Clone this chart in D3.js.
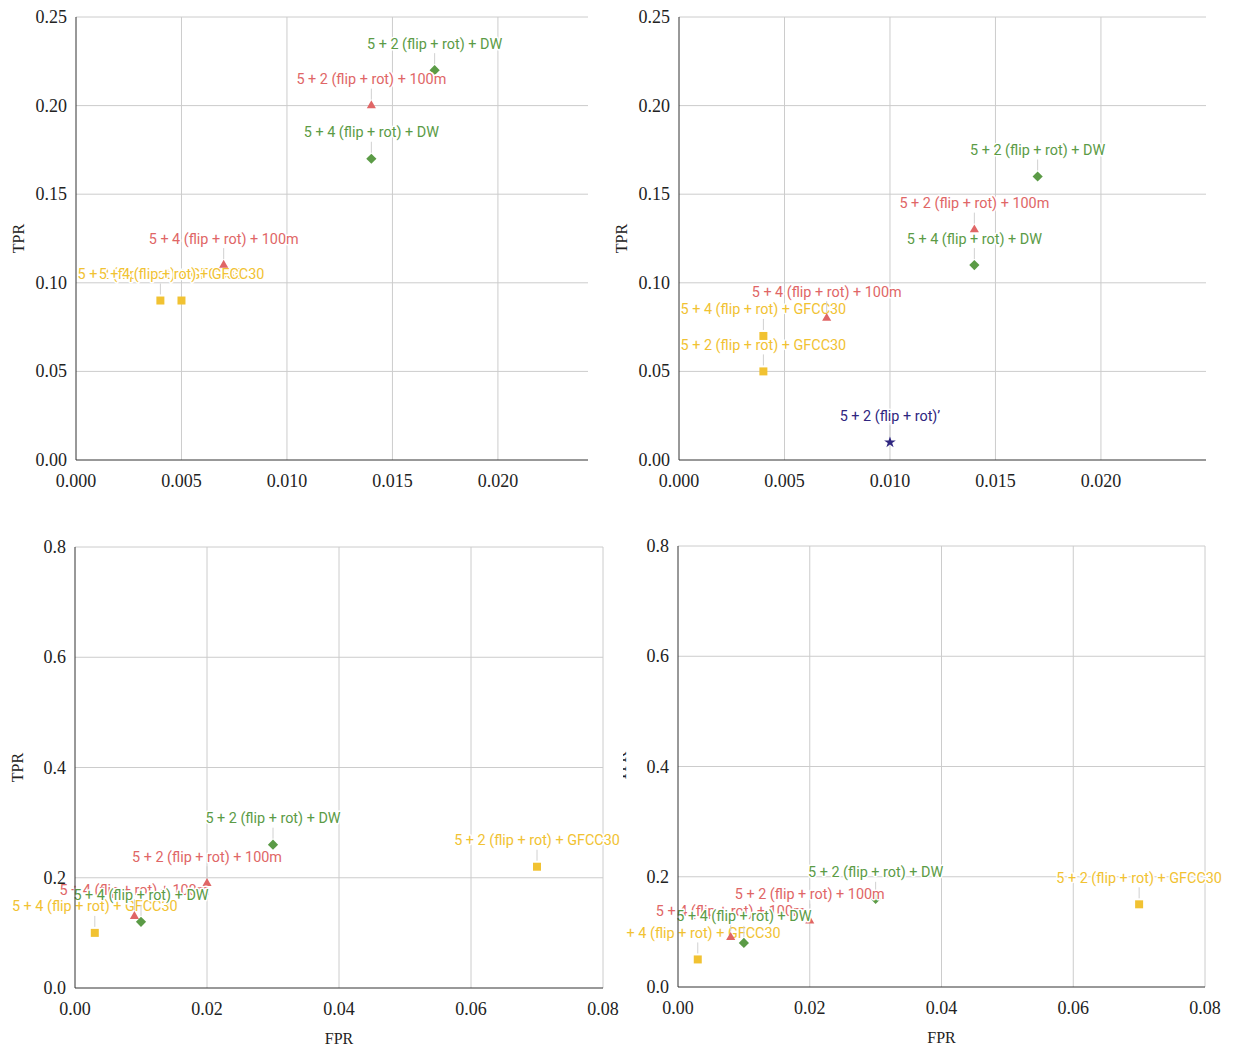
<!DOCTYPE html>
<html>
<head>
<meta charset="utf-8">
<script src="https://cdn.jsdelivr.net/npm/d3@7"></script>
<style>
  html, body { margin: 0; padding: 0; background: #fff; }
  svg { display: block; }
  .tick-label { font-family: "Liberation Serif", "Times New Roman", serif; font-size: 18px; fill: #222; }
  .axis-title { font-family: "Liberation Serif", "Times New Roman", serif; font-size: 16px; fill: #222; }
  .pt-label { font-family: Roboto, "Noto Sans", sans-serif; font-size: 14.4px;
              paint-order: stroke; stroke: #fff; stroke-width: 3px; stroke-linejoin: round; }
</style>
</head>
<body>
<script>
// ---- tick values ----
const xTicksSmall = [0, 0.005, 0.010, 0.015, 0.020];
const yTicksSmall = [0, 0.05, 0.10, 0.15, 0.20, 0.25];
const xTicksLarge = [0, 0.02, 0.04, 0.06, 0.08];
const yTicksLarge = [0, 0.2, 0.4, 0.6, 0.8];

// ---- series colours ----
const colGfcc = "#f1c232";
const col100m = "#e06666";
const colDW = "#5b9b46";
const colBase = "#2f2680";

// ---- panel A (top left) ----
const aGfcc = [
  { fpr: 0.004, tpr: 0.09, label: "5 + 2 (flip + rot) + GFCC30" },
  { fpr: 0.005, tpr: 0.09, label: "5 + 4 (flip + rot) + GFCC30" }
];
const a100m = [
  { fpr: 0.014, tpr: 0.20, label: "5 + 2 (flip + rot) + 100m" },
  { fpr: 0.007, tpr: 0.11, label: "5 + 4 (flip + rot) + 100m" }
];
const aDW = [
  { fpr: 0.017, tpr: 0.22, label: "5 + 2 (flip + rot) + DW" },
  { fpr: 0.014, tpr: 0.17, label: "5 + 4 (flip + rot) + DW" }
];

// ---- panel B (top right) ----
const bGfcc = [
  { fpr: 0.004, tpr: 0.07, label: "5 + 4 (flip + rot) + GFCC30" },
  { fpr: 0.004, tpr: 0.05, label: "5 + 2 (flip + rot) + GFCC30" }
];
const b100m = [
  { fpr: 0.014, tpr: 0.13, label: "5 + 2 (flip + rot) + 100m" },
  { fpr: 0.007, tpr: 0.08, label: "5 + 4 (flip + rot) + 100m" }
];
const bDW = [
  { fpr: 0.017, tpr: 0.16, label: "5 + 2 (flip + rot) + DW" },
  { fpr: 0.014, tpr: 0.11, label: "5 + 4 (flip + rot) + DW" }
];
const bBase = [
  { fpr: 0.010, tpr: 0.01, label: "5 + 2 (flip + rot)\u2019" }
];

// ---- panel C (bottom left) ----
const cGfcc = [
  { fpr: 0.07, tpr: 0.22, label: "5 + 2 (flip + rot) + GFCC30" },
  { fpr: 0.003, tpr: 0.10, label: "5 + 4 (flip + rot) + GFCC30" }
];
const c100m = [
  { fpr: 0.02, tpr: 0.19, label: "5 + 2 (flip + rot) + 100m" },
  { fpr: 0.009, tpr: 0.13, label: "5 + 4 (flip + rot) + 100m" }
];
const cDW = [
  { fpr: 0.03, tpr: 0.26, label: "5 + 2 (flip + rot) + DW" },
  { fpr: 0.01, tpr: 0.12, label: "5 + 4 (flip + rot) + DW" }
];

// ---- panel D (bottom right) ----
const dGfcc = [
  { fpr: 0.07, tpr: 0.15, label: "5 + 2 (flip + rot) + GFCC30" },
  { fpr: 0.003, tpr: 0.05, label: "5 + 4 (flip + rot) + GFCC30" }
];
const d100m = [
  { fpr: 0.02, tpr: 0.12, label: "5 + 2 (flip + rot) + 100m" },
  { fpr: 0.008, tpr: 0.09, label: "5 + 4 (flip + rot) + 100m" }
];
const dDW = [
  { fpr: 0.03, tpr: 0.16, label: "5 + 2 (flip + rot) + DW" },
  { fpr: 0.01, tpr: 0.08, label: "5 + 4 (flip + rot) + DW" }
];

const W = 1233, H = 1047;
const svg = d3.select("body").append("svg").attr("width", W).attr("height", H);

const symSquare = d3.symbol().type(d3.symbolSquare).size(64)();
const symDiamond = d3.symbol().type(d3.symbolSquare).size(52)();
const symTriangle = d3.symbol().type(d3.symbolTriangle).size(36)();
const symStar = d3.symbol().type(d3.symbolStar).size(42)();

// paint order of marker ("m") and label ("l") layers, by series index
const layerOrder = [["m", 0], ["l", 0], ["m", 1], ["m", 2], ["l", 1], ["l", 2], ["m", 3], ["l", 3]];

function drawPanel(cfg) {
  const g = svg.append("g");
  if (cfg.clipLeft != null) {
    const id = "clip-" + cfg.id;
    svg.append("clipPath").attr("id", id).append("rect")
      .attr("x", cfg.clipLeft).attr("y", 0).attr("width", W - cfg.clipLeft).attr("height", H);
    g.attr("clip-path", `url(#${id})`);
  }
  const x = d3.scaleLinear().domain(cfg.xDomain).range([cfg.left, cfg.right]);
  const y = d3.scaleLinear().domain(cfg.yDomain).range([cfg.bottom, cfg.top]);

  // grid
  g.append("g").selectAll("line").data(cfg.yTicks.filter(d => d > 0)).join("line")
    .attr("x1", cfg.left).attr("x2", cfg.right)
    .attr("y1", d => y(d)).attr("y2", d => y(d))
    .attr("stroke", "#cccccc").attr("stroke-width", 1);
  g.append("g").selectAll("line").data(cfg.xTicks.filter(d => d > 0)).join("line")
    .attr("x1", d => x(d)).attr("x2", d => x(d))
    .attr("y1", cfg.top).attr("y2", cfg.bottom)
    .attr("stroke", "#cccccc").attr("stroke-width", 1);

  // series: leader line + marker, and halo'd label
  layerOrder.forEach(([kind, i]) => {
    const s = cfg.series[i];
    if (!s) return;
    const lg = g.append("g");
    if (kind === "m") {
      lg.selectAll("line").data(s.data).join("line")
        .attr("x1", d => x(d.fpr)).attr("x2", d => x(d.fpr))
        .attr("y1", d => y(d.tpr) - 17).attr("y2", d => y(d.tpr) - 6)
        .attr("stroke", "#d0d0d0").attr("stroke-width", 1);
      lg.selectAll("path").data(s.data).join("path")
        .attr("d", s.symbol)
        .attr("transform", d => `translate(${x(d.fpr)},${y(d.tpr)})` + (s.rotate ? " rotate(45)" : ""))
        .attr("fill", s.color);
    } else {
      lg.selectAll("text").data(s.data).join("text")
        .attr("class", "pt-label")
        .attr("x", d => x(d.fpr)).attr("y", d => y(d.tpr) - 26)
        .attr("text-anchor", "middle").attr("dominant-baseline", "central")
        .attr("fill", s.color)
        .text(d => d.label);
    }
  });

  // axis lines on top
  g.append("line").attr("x1", cfg.left).attr("x2", cfg.left)
    .attr("y1", cfg.top).attr("y2", cfg.bottom).attr("stroke", "#333").attr("stroke-width", 1);
  g.append("line").attr("x1", cfg.left).attr("x2", cfg.right)
    .attr("y1", cfg.bottom).attr("y2", cfg.bottom).attr("stroke", "#333").attr("stroke-width", 1);

  // tick labels
  g.append("g").selectAll("text").data(cfg.yTicks).join("text")
    .attr("class", "tick-label")
    .attr("x", cfg.left - 9).attr("y", d => y(d))
    .attr("text-anchor", "end").attr("dominant-baseline", "central")
    .text(d => d3.format(cfg.yFmt)(d));
  g.append("g").selectAll("text").data(cfg.xTicks).join("text")
    .attr("class", "tick-label")
    .attr("x", d => x(d)).attr("y", cfg.bottom + 21)
    .attr("text-anchor", "middle").attr("dominant-baseline", "central")
    .text(d => d3.format(cfg.xFmt)(d));

  // axis titles
  const ty = (cfg.top + cfg.bottom) / 2;
  g.append("text").attr("class", "axis-title")
    .attr("transform", `translate(${cfg.left - 58},${ty}) rotate(-90)`)
    .attr("text-anchor", "middle").attr("dominant-baseline", "central")
    .text("TPR");
  if (cfg.showX) {
    g.append("text").attr("class", "axis-title")
      .attr("x", (cfg.left + cfg.right) / 2).attr("y", cfg.bottom + 50)
      .attr("text-anchor", "middle").attr("dominant-baseline", "central")
      .text("FPR");
  }
}

function seriesSet(gf, hm, dw, base) {
  const out = [
    { data: gf, color: colGfcc, symbol: symSquare },
    { data: hm, color: col100m, symbol: symTriangle },
    { data: dw, color: colDW, symbol: symDiamond, rotate: true }
  ];
  if (base) out.push({ data: base, color: colBase, symbol: symStar });
  return out;
}

drawPanel({ id: "a", left: 76, right: 588, top: 17, bottom: 460,
  xDomain: [0, 0.02427], yDomain: [0, 0.25], xTicks: xTicksSmall, yTicks: yTicksSmall,
  xFmt: ".3f", yFmt: ".2f", showX: false, series: seriesSet(aGfcc, a100m, aDW) });
drawPanel({ id: "b", left: 679, right: 1206, top: 17, bottom: 460,
  xDomain: [0, 0.02498], yDomain: [0, 0.25], xTicks: xTicksSmall, yTicks: yTicksSmall,
  xFmt: ".3f", yFmt: ".2f", showX: false, series: seriesSet(bGfcc, b100m, bDW, bBase) });
drawPanel({ id: "c", left: 75, right: 603, top: 547, bottom: 988,
  xDomain: [0, 0.08], yDomain: [0, 0.8], xTicks: xTicksLarge, yTicks: yTicksLarge,
  xFmt: ".2f", yFmt: ".1f", showX: true, series: seriesSet(cGfcc, c100m, cDW) });
drawPanel({ id: "d", left: 678, right: 1205, top: 546, bottom: 987, clipLeft: 623,
  xDomain: [0, 0.08], yDomain: [0, 0.8], xTicks: xTicksLarge, yTicks: yTicksLarge,
  xFmt: ".2f", yFmt: ".1f", showX: true, series: seriesSet(dGfcc, d100m, dDW) });
</script>
</body>
</html>
